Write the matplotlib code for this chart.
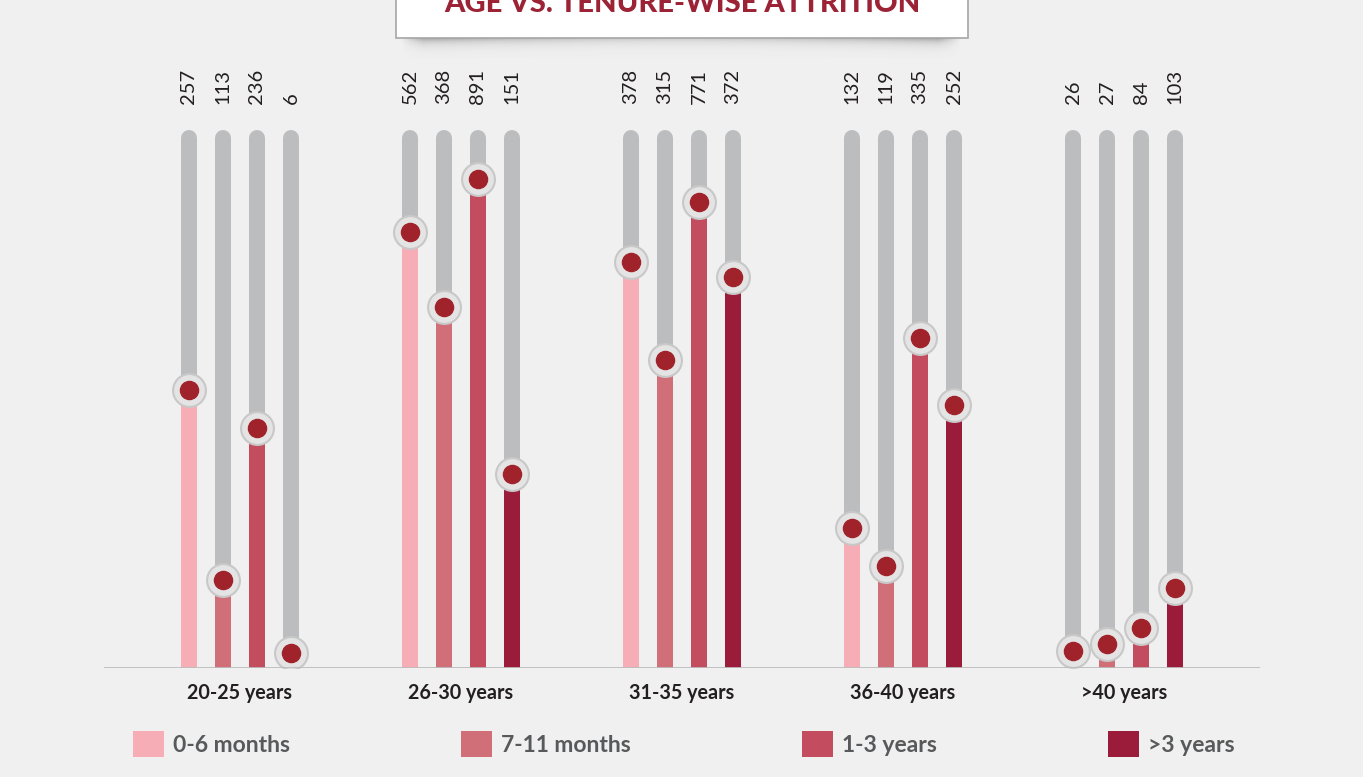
import numpy as np
import matplotlib.pyplot as plt
from matplotlib.patches import Rectangle

plt.rcParams['font.family'] = ['Lato', 'DejaVu Sans']

# ---- data ----
age_groups = ['20-25 years', '26-30 years', '31-35 years', '36-40 years', '>40 years']
tenures = ['0-6 months', '7-11 months', '1-3 years', '>3 years']
values = {
    '0-6 months': [257, 562, 378, 132, 26],
    '7-11 months': [113, 368, 315, 119, 27],
    '1-3 years': [236, 891, 771, 335, 84],
    '>3 years': [6, 151, 372, 252, 103],
}
# bar heights as drawn in the infographic (not to linear scale)
drawn_heights = {
    '0-6 months': [267, 425, 395, 129, 6],
    '7-11 months': [77, 350, 297, 91, 13],
    '1-3 years': [229, 478, 455, 319, 29],
    '>3 years': [4, 183, 380, 252, 69],
}
track_top = 538
colors = ['#f7adb5', '#d06f78', '#c34d5e', '#9a1b3a']

bg = '#f0f0f0'
W, H = 1363, 777
fig = plt.figure(figsize=(W / 100, H / 100), dpi=100, facecolor=bg)

# overlay for decorations (pixel coords)
deco = fig.add_axes([0, 0, 1, 1], zorder=0)
deco.set_xlim(0, W)
deco.set_ylim(H, 0)
deco.axis('off')
deco.patch.set_alpha(0)

# title box shadow
sx0, sx1 = 400, 962
xs = np.linspace(0, 1, 300)
ys = np.linspace(0, 1, 30)
X, Y = np.meshgrid(xs, ys)
edge = 0.45 + 0.55 * (np.abs(X - 0.5) * 2) ** 2
fade = np.exp(-Y * 4)
taper = np.clip(np.minimum(X, 1 - X) * 25, 0, 1)
shadow = np.zeros((30, 300, 4))
shadow[..., :3] = 0.35
shadow[..., 3] = 0.55 * edge * fade * taper
deco.imshow(shadow, extent=(sx0, sx1, 58, 38), aspect='auto', interpolation='bilinear')
deco.add_patch(Rectangle((396, -5), 572, 43, facecolor='white', edgecolor='#a6a6a6', lw=1.2))
deco.text(682, 12, 'AGE VS. TENURE-WISE ATTRITION', ha='center', va='baseline',
          fontsize=21, fontweight='black', color='#9b2335')

# main chart axes: y in pixel-like units above baseline
ax = fig.add_axes([104 / W, (H - 668) / H, (1260 - 104) / W, 600 / H], zorder=1)
ax.set_facecolor('none')
ax.set_xlim(-0.615, 4.615)
ax.set_ylim(0, 600)
for s in ax.spines.values():
    s.set_visible(False)
ax.set_xticks([])
ax.set_yticks([])

gx = np.arange(len(age_groups))
offsets = np.array([-1.5, -0.5, 0.5, 1.5]) * 34 / 221
bw = 16 / 221
lw_pt = 16 * 72 / 100

for i, t in enumerate(tenures):
    x = gx + offsets[i]
    for xi in x:
        ax.plot([xi, xi], [8, track_top - 8], color='#bcbdbf', lw=lw_pt,
                solid_capstyle='round', zorder=2)
    ax.bar(x, drawn_heights[t], width=bw, color=colors[i], zorder=3)
    mk_y = np.array(drawn_heights[t]) + 11
    ax.scatter(x, mk_y, s=560, color='#e4e4e4', edgecolor='#c8c8c8', linewidth=1.5, zorder=4)
    ax.scatter(x, mk_y, s=170, color='#a0232b', zorder=5)
    for xi, v in zip(x, values[t]):
        ax.text(xi, 564, str(v), rotation=90, ha='center', va='bottom',
                fontsize=14.5, color='#231f20', clip_on=False)

ax.axhline(0, color='#bcbcbc', lw=2, zorder=6)

for g, lab in zip(gx, age_groups):
    ax.text(g, -25, lab, ha='center', va='center', fontsize=14.2,
            fontweight='bold', color='#231f20')

handles = [Rectangle((0, 0), 1, 1, facecolor=c, edgecolor='none') for c in colors]
leg = fig.legend(handles, tenures, loc='center left', bbox_to_anchor=(133 / W, (H - 744) / H),
                 ncol=4, frameon=False, fontsize=16.5, handlelength=1.36, handleheight=1.36,
                 handletextpad=0.4, columnspacing=7.45, borderaxespad=0, borderpad=0)
for txt in leg.get_texts():
    txt.set_color('#58595b')
    txt.set_fontweight('bold')

fig.savefig('out.png', dpi=100, facecolor=bg)
